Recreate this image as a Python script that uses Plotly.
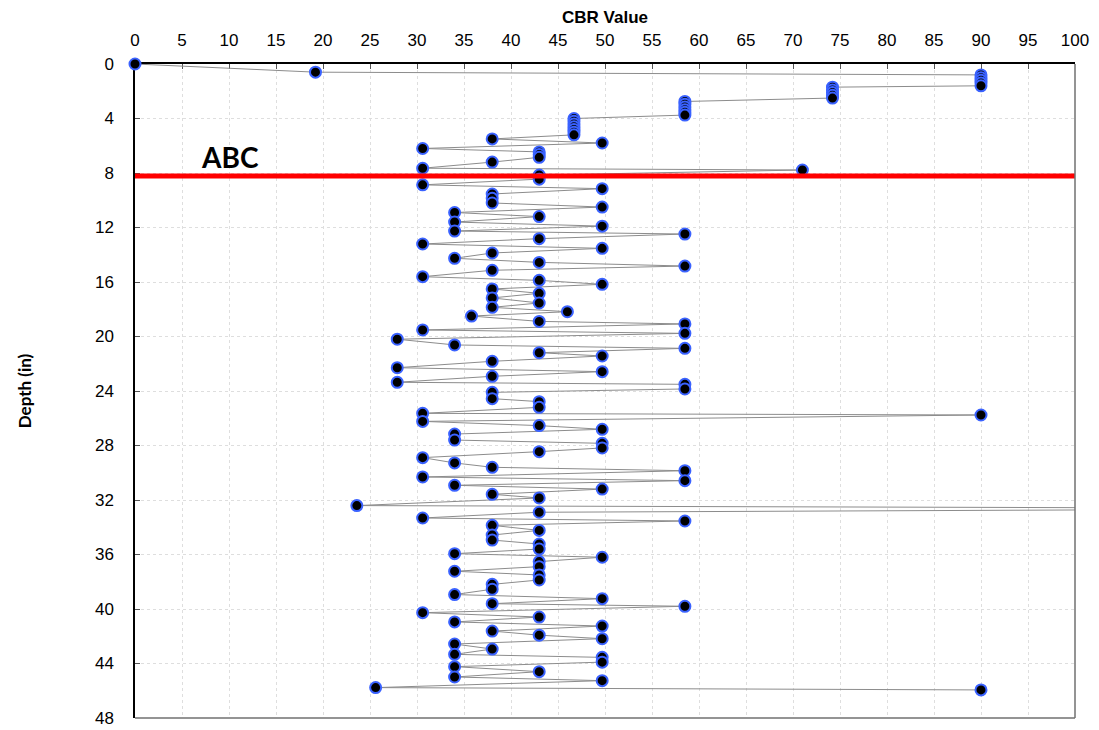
import plotly.graph_objects as go

# CBR value / depth pairs, in order of penetration
cbr = [
    0, 19.2,
    90, 90, 90, 90, 90,
    74.2, 74.2, 74.2, 74.2, 74.2,
    58.5, 58.5, 58.5, 58.5, 58.5, 58.5,
    46.7, 46.7, 46.7, 46.7, 46.7, 46.7, 46.7,
    38, 49.7, 30.6, 43, 43, 43, 38, 30.6, 71, 43, 43,
    30.6, 49.7, 38, 38, 38, 49.7, 34, 43, 34, 49.7,
    34, 58.5, 43, 30.6, 49.7, 38, 34, 43, 58.5, 38,
    30.6, 43, 49.7, 38, 43, 38, 43, 38, 46, 35.8,
    43, 58.5, 30.6, 58.5, 27.9, 34, 58.5, 43, 49.7, 38,
    27.9, 49.7, 38, 27.9, 58.5, 58.5, 38, 38, 43, 43,
    30.6, 90, 30.6, 43, 49.7, 34, 34, 49.7, 49.7, 43,
    30.6, 34, 38, 58.5, 30.6, 58.5, 34, 49.7, 38, 43,
    23.6, 135, 43, 30.6, 58.5, 38, 43, 38, 38, 43,
    43, 34, 49.7, 43, 43, 34, 43, 43, 38, 38,
    34, 49.7, 38, 58.5, 30.6, 43, 34, 49.7, 38, 43,
    49.7, 34, 38, 34, 49.7, 49.7, 34, 43, 34, 49.7,
    25.6, 90,
]
depth = [
    0, 0.6,
    0.8, 1.0, 1.2, 1.4, 1.6,
    1.7, 1.9, 2.1, 2.3, 2.5,
    2.75, 2.95, 3.15, 3.35, 3.55, 3.75,
    4.0, 4.2, 4.4, 4.6, 4.8, 5.0, 5.2,
    5.5, 5.8, 6.2, 6.45, 6.65, 6.85, 7.2, 7.65, 7.78, 8.15, 8.45,
    8.87, 9.15, 9.54, 9.86, 10.2, 10.5, 10.9, 11.2, 11.6, 11.9,
    12.26, 12.48, 12.82, 13.21, 13.53, 13.87, 14.26, 14.56, 14.83, 15.14,
    15.61, 15.88, 16.17, 16.51, 16.83, 17.17, 17.54, 17.86, 18.18, 18.5,
    18.89, 19.08, 19.52, 19.77, 20.2, 20.62, 20.87, 21.19, 21.43, 21.82,
    22.29, 22.58, 22.92, 23.36, 23.51, 23.85, 24.1, 24.56, 24.78, 25.2,
    25.64, 25.76, 26.23, 26.54, 26.81, 27.16, 27.6, 27.84, 28.18, 28.45,
    28.89, 29.28, 29.6, 29.85, 30.31, 30.58, 30.92, 31.2, 31.58, 31.85,
    32.41, 32.63, 32.9, 33.32, 33.54, 33.86, 34.23, 34.57, 34.94, 35.23,
    35.6, 35.94, 36.2, 36.52, 36.89, 37.23, 37.5, 37.87, 38.19, 38.55,
    38.94, 39.24, 39.61, 39.8, 40.27, 40.59, 40.95, 41.25, 41.62, 41.92,
    42.18, 42.57, 42.94, 43.33, 43.55, 43.9, 44.23, 44.6, 44.99, 45.26,
    45.77, 45.94,
]

x_ticks = list(range(0, 101, 5))
y_ticks = list(range(0, 49, 4))

layer_depth = 8.22   # ABC layer boundary
layer_label = "ABC"

fig = go.Figure()

fig.add_trace(go.Scatter(
    x=cbr,
    y=depth,
    mode='lines+markers',
    line=dict(color='#8c8c8c', width=1),
    marker=dict(size=11, color='black', line=dict(color='#3a62ff', width=2)),
    cliponaxis=False,
    showlegend=False,
))

# red boundary line
fig.add_shape(type='line', xref='x', yref='y',
              x0=0, x1=100, y0=layer_depth, y1=layer_depth,
              line=dict(color='#ff0000', width=5), layer='above')

# grey right / bottom frame
fig.add_shape(type='line', xref='paper', yref='paper', x0=1, x1=1, y0=0, y1=1,
              line=dict(color='#707070', width=1.5))
fig.add_shape(type='line', xref='paper', yref='paper', x0=0, x1=1, y0=0, y1=0,
              line=dict(color='#707070', width=1.5))

fig.add_annotation(
    x=10.1, y=6.8, xref='x', yref='y',
    text=f"<b>{layer_label}</b>", showarrow=False,
    font=dict(size=28, family='Lato', color='black'),
)

# page body adds an 8px offset, so margins are shifted to compensate
fig.update_layout(
    width=1099,
    height=730,
    paper_bgcolor='white',
    plot_bgcolor='white',
    font=dict(family='Liberation Sans, Arial', size=17, color='black'),
    margin=dict(l=127, r=32, t=56, b=20, autoexpand=False),
    xaxis=dict(
        side='top',
        range=[0, 100],
        tickvals=x_ticks,
        ticks='inside', ticklen=5, tickcolor='#555',
        ticklabelstandoff=9,
        showline=True, linecolor='black', linewidth=1.5,
        showgrid=True, gridcolor='#dedede', griddash='dot', gridwidth=1,
        zeroline=False,
        layer='below traces',
        title=dict(text='<b>CBR Value</b>', font=dict(size=17), standoff=6),
        automargin=False,
    ),
    yaxis=dict(
        range=[48, 0],
        tickvals=y_ticks,
        ticks='inside', ticklen=5, tickcolor='#555',
        ticklabelstandoff=16,
        showline=True, linecolor='black', linewidth=1.5,
        showgrid=True, gridcolor='#dedede', griddash='dot', gridwidth=1,
        zeroline=False,
        layer='below traces',
        title=dict(text='<b>Depth (in)</b>', font=dict(size=17, family='Lato'), standoff=59),
        automargin=False,
    ),
)

fig.write_html("out.html")
